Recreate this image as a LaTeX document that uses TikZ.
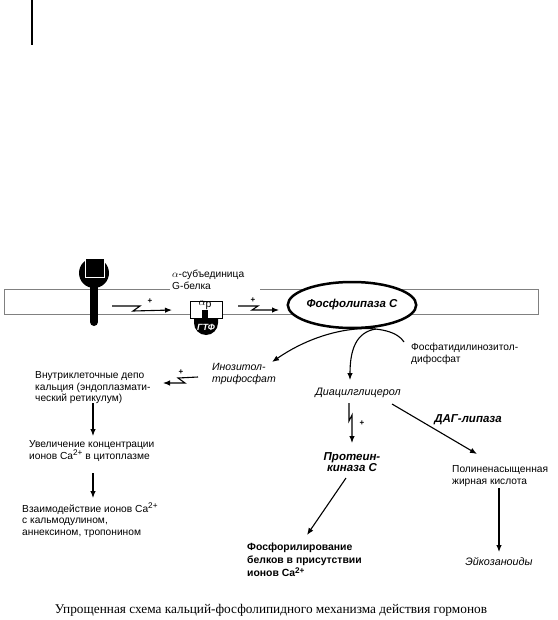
\documentclass[tikz,border=0pt]{standalone}
\usepackage{fontspec}
\setmainfont{Liberation Sans}
\newfontfamily\capfont{Liberation Serif}
\usetikzlibrary{arrows.meta,shapes.geometric}
\newcommand{\casup}{Ca\raisebox{3.2pt}{\fontsize{8.2}{8.2}\selectfont 2+}}
\begin{document}
\begin{tikzpicture}[yscale=-1, x=1pt, y=1pt,
  txt/.style={font=\fontsize{10.2}{11.8}\selectfont, inner sep=0pt, align=left, anchor=north west},
  ctxt/.style={font=\fontsize{10.2}{11.8}\selectfont, inner sep=0pt, align=center},
  arr/.style={line width=1.1pt, -{Latex[length=7pt,width=5.5pt]}},
  plus/.style={font=\fontsize{8}{8}\selectfont\bfseries, inner sep=0pt},
  memb/.style={draw=gray, line width=1pt}]
\useasboundingbox (0,0) rectangle (557,620);
% top-left line
\draw[line width=2pt] (32,0) -- (32,45);
% membrane
\draw[memb] (170,289) -- (4,289) -- (4,314) -- (538,314) -- (538,289) -- (260,289);
% receptor
\draw[line width=8pt, line cap=round] (94,280) -- (94,322);
\fill (94,273) circle (15);
\fill[draw=white, line width=1pt] (85,258) rectangle (104,277);
\coordinate (rec) at (112,306);
% G protein
\fill (194,317) -- (194,323) arc[start angle=180, end angle=0, radius=12] -- (218,317) -- cycle;
\draw[fill=white, line width=1pt] (190,301) rectangle (222,318);
\fill (202,310) rectangle (208,318);
\node[font=\fontsize{10.5}{10.5}\selectfont, inner sep=0pt] (ap) at (205,305) {$\alpha$\raisebox{-1.5pt}{p}};
\node[font=\fontsize{9}{9}\selectfont\bfseries\itshape, text=white, inner sep=0pt] (gtf) at (206,327) {ГТФ};
\node[txt] (alpha) at (172,270) {$\alpha$-субъединица\\G-белка};
\coordinate (gin) at (172,310);
\coordinate (gout) at (238,306);
% PLC
\node[draw, ellipse, line width=2.5pt, fill=white, minimum width=118pt, minimum height=46pt, inner sep=0pt,
  font=\fontsize{11.5}{11.5}\selectfont\bfseries\itshape] (plc) at (352,305) {Фосфолипаза С};
\coordinate (plcin) at (279,310);
% lightning arrows
\draw[arr] (rec) -- (140,306) -- (133,311) -- (gin);
\node[plus] (p1) at (150,301) {+};
\draw[arr] (gout) -- (258,306) -- (252,310) -- (plcin);
\node[plus] (p2) at (253,300) {+};
% PIP2
\node[txt] (pip2) at (411,343) {Фосфатидилинозитол-\\дифосфат};
\coordinate (pipc) at (404,342);
% IP3
\node[txt, font=\fontsize{10.5}{11.8}\selectfont\itshape] (ip3) at (212,363) {Инозитол-\\трифосфат};
\coordinate (ip3t) at (272,362);
\draw[arr] (pipc) .. controls (392,322) and (330,322) .. (ip3t);
% DAG
\node[ctxt, font=\fontsize{10.8}{10.8}\selectfont\itshape] (dag) at (358,393) {Диацилглицерол};
\coordinate (dagt) at (350,380);
\coordinate (plcb) at (376,329);
\draw[arr] (plcb) .. controls (356,332) and (350,350) .. (dagt);
% depot
\node[txt] (depot) at (35,371) {Внутриклеточные депо\\кальция (эндоплазмати-\\ческий ретикулум)};
\coordinate (ip3l) at (198,377);
\coordinate (depr) at (163,383);
\draw[arr] (ip3l) -- (178,378) -- (185,383) -- (depr);
\node[plus] (p3) at (181,372) {+};
% Ca increase
\node[txt] (incr) at (29,440) {Увеличение концентрации\\ионов \casup{} в цитоплазме};
\node[txt] (inter) at (22,503) {Взаимодействие ионов \casup\\с кальмодулином,\\аннексином, тропонином};
\coordinate (d1) at (93,403);
\coordinate (d2) at (93,436);
\coordinate (d3) at (93,473);
\coordinate (d4) at (93,498);
\draw[arr] (d1) -- (d2);
\draw[arr] (d3) -- (d4);
% PKC
\node[ctxt, font=\fontsize{11.5}{11.5}\selectfont\bfseries\itshape] (pkc) at (352,462) {Протеин-\\киназа С};
\coordinate (dagb) at (349,403);
\coordinate (pkct) at (352,443);
\draw[arr] (dagb) -- (349,421) -- (352,415) -- (pkct);
\node[plus] (p4) at (362,423) {+};
\node[txt, font=\fontsize{10.4}{13}\selectfont\bfseries] (phos) at (247,543) {Фосфорилирование\\белков в присутствии\\ионов \casup};
\coordinate (pkcb) at (346,478);
\coordinate (phost) at (307,535);
\draw[arr] (pkcb) -- (phost);
% DAG lipase
\coordinate (dagr) at (392,404);
\coordinate (pufat) at (477,454);
\draw[arr] (dagr) -- (pufat);
\node[ctxt, font=\fontsize{11.5}{11.5}\selectfont\bfseries\itshape] (lip) at (468,420) {ДАГ-липаза};
\node[txt] (pufa) at (452,465) {Полиненасыщенная\\жирная кислота};
\coordinate (pufab) at (499,488);
\coordinate (eikt) at (499,552);
\draw[arr] (pufab) -- (eikt);
\node[ctxt, font=\fontsize{10.8}{10.8}\selectfont\itshape] (eik) at (499,562) {Эйкозаноиды};
% caption
\node[font=\capfont\fontsize{13.3}{13.3}\selectfont, inner sep=0pt] (cap) at (271,610) {Упрощенная схема кальций-фосфолипидного механизма действия гормонов};
\end{tikzpicture}
\end{document}
